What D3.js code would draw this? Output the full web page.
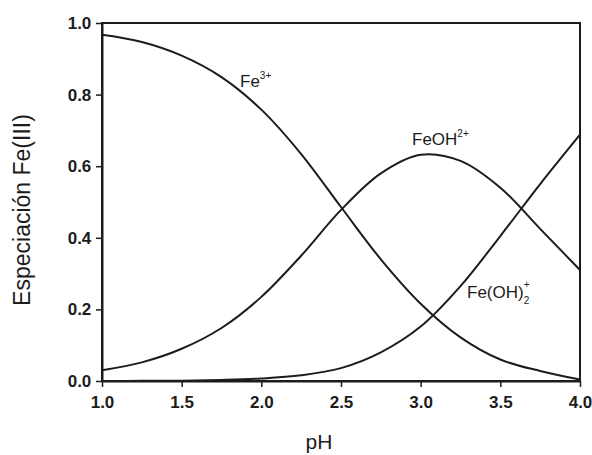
<!DOCTYPE html>
<html>
<head>
<meta charset="utf-8">
<script src="https://cdn.jsdelivr.net/npm/d3@7/dist/d3.min.js"></script>
<style>
  html, body { margin: 0; padding: 0; background: #fff; }
  svg { display: block; font-family: "Liberation Sans", Arial, sans-serif; }
</style>
</head>
<body>
<svg id="chart" width="592" height="455"></svg>
<script>
// Fe(III) speciation fractions as a function of pH
const pH      = [1.0, 1.25, 1.5, 1.75, 2.0, 2.25, 2.5, 2.75, 3.0, 3.25, 3.5, 3.75, 4.0];
const fe3     = [0.967, 0.947, 0.909, 0.849, 0.758, 0.634, 0.486, 0.340, 0.216, 0.122, 0.060, 0.028, 0.004];
const feOH    = [0.030, 0.052, 0.090, 0.148, 0.235, 0.350, 0.478, 0.580, 0.632, 0.615, 0.540, 0.425, 0.310];
const feOH2   = [0.000, 0.0005, 0.001, 0.003, 0.007, 0.016, 0.036, 0.080, 0.152, 0.265, 0.405, 0.550, 0.688];
const xTicks  = [1.0, 1.5, 2.0, 2.5, 3.0, 3.5, 4.0];
const yTicks  = [0.0, 0.2, 0.4, 0.6, 0.8, 1.0];

const ink = "#1c1c1c";
const margin = { left: 102, right: 12, top: 23, bottom: 74 };
const W = 592, H = 455;

const svg = d3.select("#chart");
const x = d3.scaleLinear().domain([1, 4]).range([margin.left, W - margin.right]);
const y = d3.scaleLinear().domain([0, 1]).range([H - margin.bottom, margin.top]);

// frame
svg.append("rect")
  .attr("x", x(1)).attr("y", y(1))
  .attr("width", x(4) - x(1)).attr("height", y(0) - y(1))
  .attr("fill", "none").attr("stroke", ink).attr("stroke-width", 2);

// axes
const xAxis = svg.append("g")
  .attr("transform", `translate(0,${y(0)})`)
  .call(d3.axisBottom(x).tickValues(xTicks).tickFormat(d3.format(".1f")).tickSize(6).tickSizeOuter(0));
const yAxis = svg.append("g")
  .attr("transform", `translate(${x(1)},0)`)
  .call(d3.axisLeft(y).tickValues(yTicks).tickFormat(d3.format(".1f")).tickSize(6).tickSizeOuter(0));

[xAxis, yAxis].forEach(g => {
  g.select(".domain").attr("stroke", ink).attr("stroke-width", 2);
  g.selectAll(".tick line").attr("stroke", ink).attr("stroke-width", 1.5);
  g.selectAll(".tick text")
    .attr("fill", ink)
    .style("font-size", "17px")
    .style("font-weight", "bold")
    .style("font-family", "'Liberation Sans', Arial, sans-serif");
});
xAxis.selectAll(".tick text").attr("dy", "1.05em");
yAxis.selectAll(".tick text").attr("dx", "-0.1em");

// curves
const series = [fe3, feOH, feOH2];
const line = d3.line()
  .x((d, i) => x(pH[i]))
  .y(d => y(d))
  .curve(d3.curveCatmullRom.alpha(0.5));

svg.append("g").selectAll("path")
  .data(series)
  .join("path")
  .attr("d", d => line(d))
  .attr("fill", "none")
  .attr("stroke", ink)
  .attr("stroke-width", 2);

// species labels
const lab = svg.append("g").attr("fill", ink).style("font-size", "17px");

const t1 = lab.append("text").attr("x", 240).attr("y", 87);
t1.append("tspan").text("Fe");
t1.append("tspan").attr("dy", -8).style("font-size", "10px").text("3+");

const t2 = lab.append("text").attr("x", 412).attr("y", 145);
t2.append("tspan").text("FeOH");
t2.append("tspan").attr("dy", -8).style("font-size", "10px").text("2+");

const t3 = lab.append("text").attr("x", 467).attr("y", 298);
t3.append("tspan").text("Fe(OH)");
t3.append("tspan").attr("dy", 6).style("font-size", "10px").text("2");
t3.append("tspan").attr("dx", -5.5).attr("dy", -16).style("font-size", "10px").text("+");

// axis titles
svg.append("text")
  .attr("x", 319).attr("y", 449)
  .attr("text-anchor", "middle")
  .attr("fill", ink)
  .style("font-size", "21px")
  .text("pH");

svg.append("text")
  .attr("transform", "translate(30,210) rotate(-90)")
  .attr("text-anchor", "middle")
  .attr("fill", ink)
  .style("font-size", "23px")
  .text("Especiación Fe(III)");
</script>
</body>
</html>
